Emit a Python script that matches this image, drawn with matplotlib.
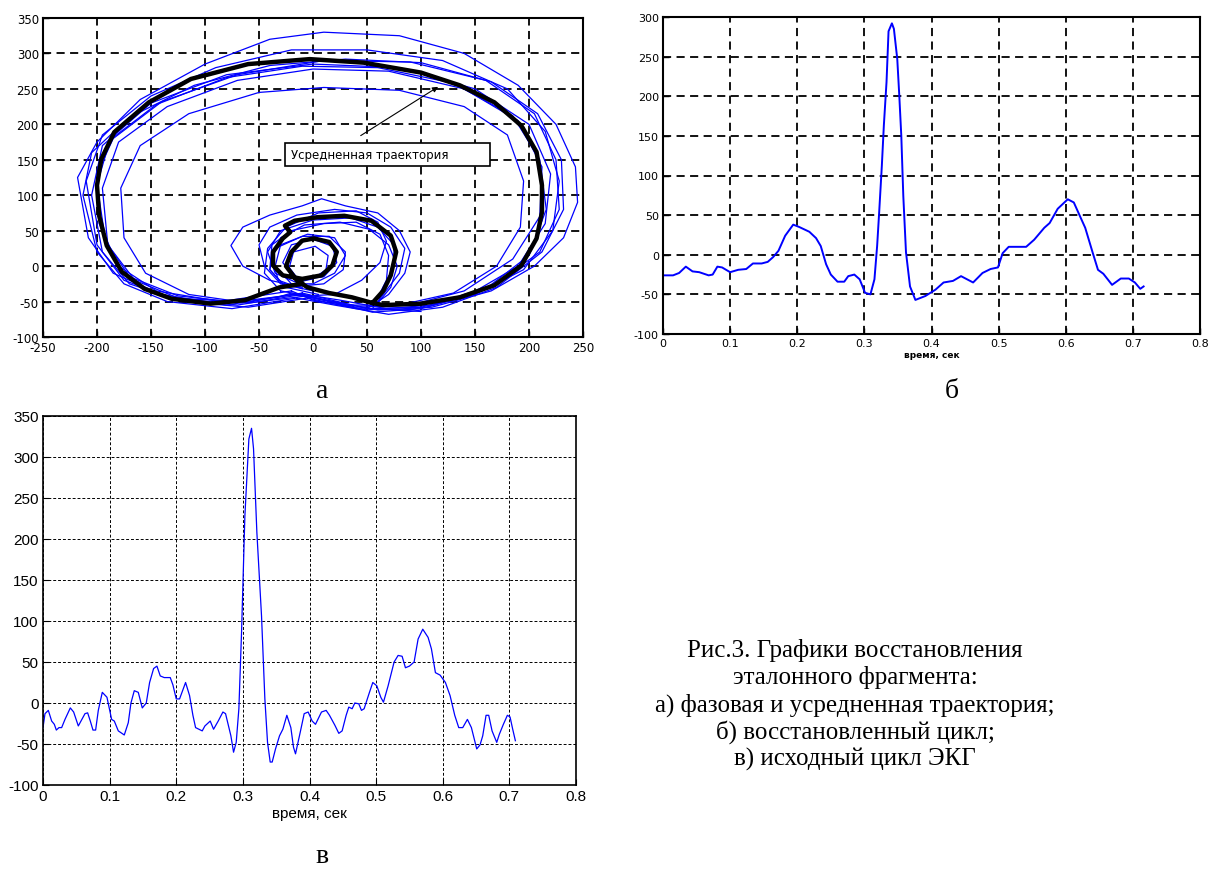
import matplotlib
matplotlib.use("Agg")
import matplotlib.pyplot as plt
from matplotlib.patches import Rectangle

plt.rcParams["axes.unicode_minus"] = False

# ---------------- Panel б: reconstructed cycle ----------------
rec_t = [0.0, 0.015, 0.024, 0.034, 0.044, 0.054, 0.068, 0.074, 0.081, 0.088, 0.1, 0.112, 0.124,
         0.134, 0.147, 0.156, 0.164, 0.172, 0.182, 0.194, 0.203, 0.218, 0.228, 0.235, 0.243, 0.25,
         0.26, 0.27, 0.276, 0.285, 0.293, 0.301, 0.309, 0.315, 0.319, 0.322, 0.326, 0.329, 0.333,
         0.336, 0.341, 0.344, 0.349, 0.352, 0.355, 0.358, 0.362, 0.368, 0.376, 0.391, 0.406, 0.418,
         0.432, 0.444, 0.453, 0.462, 0.476, 0.488, 0.499, 0.506, 0.515, 0.541, 0.553, 0.568, 0.576,
         0.588, 0.603, 0.612, 0.621, 0.629, 0.64, 0.648, 0.656, 0.669, 0.682, 0.694, 0.703, 0.711, 0.716]
rec_v = [-26, -26, -23, -15, -21, -22, -26, -25, -15, -16, -22, -19, -18,
         -11, -11, -9, -3, 5, 24, 38, 35, 29, 21, 11, -12, -25,
         -34, -34, -27, -25, -31, -48, -50, -31, 11, 53, 112, 163, 218,
         282, 292, 285, 247, 201, 150, 74, 3, -40, -57, -52, -44, -35,
         -33, -27, -31, -35, -23, -18, -16, 2, 10, 10, 19, 34, 40,
         58, 70, 66, 49, 34, 3, -19, -24, -38, -30, -30, -35, -43, -40]

# ---------------- Panel в: original ECG cycle ----------------
ecg_t = [0.0, 0.003, 0.008, 0.013, 0.017, 0.02, 0.024, 0.028, 0.033, 0.041, 0.046, 0.053, 0.057,
         0.063, 0.067, 0.071, 0.075, 0.079, 0.083, 0.089, 0.096, 0.103, 0.107, 0.113, 0.122, 0.128,
         0.132, 0.137, 0.143, 0.149, 0.155, 0.16, 0.166, 0.171, 0.176, 0.182, 0.191, 0.195, 0.2,
         0.205, 0.214, 0.22, 0.225, 0.229, 0.239, 0.243, 0.251, 0.256, 0.263, 0.27, 0.274, 0.282,
         0.286, 0.29, 0.294, 0.298, 0.303, 0.309, 0.313, 0.316, 0.321, 0.328, 0.333, 0.337, 0.341,
         0.344, 0.349, 0.355, 0.36, 0.366, 0.372, 0.376, 0.379, 0.386, 0.392, 0.398, 0.404, 0.409,
         0.418, 0.425, 0.43, 0.438, 0.444, 0.449, 0.455, 0.459, 0.464, 0.468, 0.474, 0.478, 0.482,
         0.49, 0.495, 0.501, 0.507, 0.511, 0.518, 0.527, 0.533, 0.539, 0.544, 0.55, 0.557, 0.563,
         0.57, 0.578, 0.583, 0.589, 0.596, 0.604, 0.611, 0.618, 0.624, 0.63, 0.637, 0.643, 0.651,
         0.656, 0.66, 0.665, 0.669, 0.674, 0.681, 0.685, 0.691, 0.697, 0.701, 0.705, 0.709]
ecg_v = [-30, -13, -9, -22, -26, -33, -30, -30, -20, -6, -11, -28, -22,
         -13, -12, -22, -33, -33, -9, 13, 7, -20, -22, -34, -39, -24,
         0, 15, 13, -6, 0, 25, 42, 45, 33, 31, 31, 22, 5,
         5, 25, 9, -15, -30, -34, -28, -22, -32, -22, -11, -13, -40,
         -60, -48, -7, 86, 228, 322, 335, 310, 208, 106, 5, -48, -72,
         -72, -56, -40, -32, -15, -30, -54, -62, -36, -13, -11, -22, -26,
         -11, -9, -15, -27, -37, -34, -15, -5, -7, 0, -1, -9, -7,
         13, 25, 21, 7, 1, 21, 50, 58, 57, 43, 45, 50, 78,
         90, 80, 66, 37, 34, 25, 9, -15, -30, -30, -20, -30, -56,
         -51, -40, -15, -15, -34, -48, -38, -26, -15, -17, -32, -46]

# ---------------- Panel а: phase trajectories ----------------
avg_x = [-10, -31, -63, -95, -131, -156, -177, -191, -198, -200, -196, -184, -152, -113, -60, -3,
         47, 100, 136, 168, 193, 207, 212, 212, 207, 193, 168, 136, 100, 65, 55, 65, 72, 77, 72,
         54, 29, 4, -17, -26, -21, -28, -37, -37, -28, -10, 8, 18, 22, 15, 1, -10, -20, -25, -15,
         -5, 15, 36, 55]
avg_y = [-25, -30, -48, -53, -46, -32, -8, 29, 71, 114, 151, 189, 231, 264, 285, 292,
         287, 273, 255, 231, 198, 161, 114, 76, 39, 1, -27, -44, -53, -55, -52, -35, -13, 20, 43,
         64, 71, 69, 64, 57, 48, 39, 20, 1, -13, -18, -13, 1, 20, 34, 39, 36, 20, 0, -20,
         -30, -38, -44, -52]

loop1_x = [-20, -80, -140, -185, -208, -218, -200, -160, -100, -40, 10, 80, 140, 190, 225, 243, 245, 232, 205, 165, 110, 60, 20, -20]
loop1_y = [-40, -55, -40, -10, 40, 125, 175, 235, 285, 320, 330, 325, 300, 255, 200, 140, 90, 40, 0, -35, -58, -62, -50, -40]
loop2_x = [-15, -70, -130, -175, -200, -210, -195, -150, -90, -20, 50, 120, 180, 215, 228, 222, 195, 150, 100, 55, 15, -15]
loop2_y = [-40, -50, -45, -20, 30, 120, 185, 240, 280, 305, 305, 290, 250, 190, 120, 50, -5, -40, -60, -65, -50, -40]
loop3_x = [-5, -60, -120, -170, -195, -205, -195, -150, -80, 0, 80, 150, 200, 220, 215, 190, 145, 90, 40, -5]
loop3_y = [-45, -58, -50, -25, 20, 100, 170, 230, 270, 285, 280, 250, 200, 130, 60, 0, -40, -62, -60, -45]
loop4_x = [-10, -70, -125, -165, -190, -195, -180, -135, -70, 0, 70, 140, 190, 212, 210, 185, 140, 90, 40, -10]
loop4_y = [-40, -55, -45, -20, 30, 110, 175, 225, 262, 278, 275, 250, 205, 140, 70, 10, -35, -55, -58, -40]
loop5_x = [-5, -60, -115, -155, -175, -178, -160, -115, -50, 10, 80, 140, 180, 195, 192, 170, 130, 80, 30, -5]
loop5_y = [-42, -52, -40, -10, 40, 110, 170, 215, 245, 252, 248, 225, 185, 120, 55, 0, -38, -55, -55, -42]
loop6_x = [-20, -85, -145, -180, -198, -200, -185, -140, -70, 10, 90, 160, 205, 225, 228, 210, 170, 110, 50, 0, -20]
loop6_y = [-35, -50, -35, 0, 60, 130, 180, 232, 270, 290, 288, 262, 215, 150, 80, 20, -25, -55, -62, -48, -35]
loop7_x = [-15, -75, -135, -175, -200, -213, -205, -170, -110, -40, 30, 100, 165, 208, 230, 232, 212, 170, 120, 70, 20, -15]
loop7_y = [-45, -60, -50, -25, 20, 100, 160, 210, 255, 283, 292, 287, 260, 215, 150, 80, 20, -30, -58, -68, -55, -45]
loop8_x = [-10, -65, -125, -170, -192, -200, -188, -145, -80, -10, 60, 130, 185, 210, 216, 200, 160, 105, 50, -10]
loop8_y = [-38, -52, -42, -15, 35, 115, 178, 228, 266, 282, 280, 258, 212, 150, 80, 15, -32, -58, -60, -38]

small1_x = [-10, -40, -65, -76, -65, -40, -10, 8, 30, 60, 80, 90, 85, 70, 50]
small1_y = [-30, -20, 0, 29, 55, 72, 85, 95, 85, 75, 50, 20, -10, -40, -60]
small2_x = [0, -30, -45, -50, -40, -15, 20, 50, 72, 85, 80, 65, 55]
small2_y = [-35, -25, 0, 30, 55, 72, 80, 75, 55, 25, -10, -40, -60]
small3_x = [-5, -35, -42, -30, 0, 35, 60, 75, 75, 65, 60]
small3_y = [-30, -10, 20, 50, 65, 68, 55, 30, 0, -30, -55]
small4_x = [5, -25, -40, -38, -20, 10, 40, 62, 70, 68, 58]
small4_y = [-40, -30, -5, 30, 50, 60, 62, 45, 15, -20, -50]
small5_x = [-20, -35, -30, -5, 20, 30, 20, 0, -20]
small5_y = [-25, 0, 30, 45, 40, 15, -10, -25, -25]
small6_x = [-15, -28, -20, 0, 18, 22, 10, -15]
small6_y = [-20, 5, 30, 38, 28, 5, -15, -20]
small7_x = [-25, -40, -35, -10, 15, 30, 28, 10, -25]
small7_y = [-30, -5, 25, 42, 42, 20, -5, -25, -30]
small8_x = [-30, -45, -42, -25, 5, 40, 60, 68, 62, 45, 20, -5, -30]
small8_y = [-35, -10, 25, 55, 75, 78, 62, 35, 5, -20, -40, -42, -35]
small9_x = [-35, -20, 0, 25, 50, 75, 100]
small9_y = [-45, -38, -42, -48, -55, -62, -64]
small10_x = [-10, -32, -38, -30, -8, 25, 52, 70, 78, 72, 60]
small10_y = [-32, -20, 10, 40, 58, 62, 52, 30, 0, -30, -52]
small11_x = [-12, -22, -18, 2, 14, 12, 0, -12]
small11_y = [-22, -2, 20, 28, 15, -5, -18, -22]

big_loops = [(loop1_x, loop1_y), (loop2_x, loop2_y), (loop3_x, loop3_y), (loop4_x, loop4_y),
             (loop5_x, loop5_y), (loop6_x, loop6_y), (loop7_x, loop7_y), (loop8_x, loop8_y)]
small_loops = [(small1_x, small1_y), (small2_x, small2_y), (small3_x, small3_y), (small4_x, small4_y),
               (small5_x, small5_y), (small6_x, small6_y), (small7_x, small7_y), (small8_x, small8_y),
               (small9_x, small9_y), (small10_x, small10_y), (small11_x, small11_y)]

a_xticks = list(range(-250, 251, 50))
a_yticks = list(range(-100, 351, 50))
b_xticks = [0, 0.1, 0.2, 0.3, 0.4, 0.5, 0.6, 0.7, 0.8]
b_xlabels = ["0", "0.1", "0.2", "0.3", "0.4", "0.5", "0.6", "0.7", "0.8"]
b_yticks = list(range(-100, 301, 50))
c_yticks = list(range(-100, 351, 50))

caption_lines = ["Рис.3. Графики восстановления",
                 "эталонного фрагмента:",
                 "а) фазовая и усредненная траектория;",
                 "б) восстановленный цикл;",
                 "в) исходный цикл ЭКГ"]

W, H = 1211, 870
fig = plt.figure(figsize=(W / 100, H / 100), dpi=100)
fig.patch.set_facecolor("white")

def frac(l, t, r, b):
    return [l / W, 1 - b / H, (r - l) / W, (b - t) / H]

BLUE = "#0000ff"

def style_old(ax, fs):
    ax.grid(True, color="black", linestyle=(0, (4.5, 3)), linewidth=1.3)
    ax.set_axisbelow(True)
    for s in ax.spines.values():
        s.set_linewidth(1.5)
        s.set_color("black")
    ax.tick_params(direction="in", length=4, width=1, labelsize=fs, colors="black", pad=3)

# ---- Panel а ----
axA = fig.add_axes(frac(43, 19, 583, 338))
for lx, ly in big_loops:
    axA.plot(lx, ly, color=BLUE, lw=0.9)
for lx, ly in small_loops:
    axA.plot(lx, ly, color=BLUE, lw=0.9)
axA.plot(avg_x, avg_y, color="black", lw=3.2, solid_joinstyle="round")
axA.set_xlim(-250, 250)
axA.set_ylim(-100, 350)
axA.set_xticks(a_xticks)
axA.set_yticks(a_yticks)
style_old(axA, 8.5)
axA.add_patch(Rectangle((-26, 141), 190, 33, facecolor="white", edgecolor="black", lw=1.2, zorder=5))
axA.text(-20, 157, "Усредненная траектория", fontsize=8.5, va="center", ha="left", zorder=6)
axA.annotate("", xy=(118, 255), xytext=(42, 182),
             arrowprops=dict(arrowstyle="-|>", color="black", lw=0.8, mutation_scale=8), zorder=6)

# ---- Panel б ----
axB = fig.add_axes(frac(663, 18, 1200, 335))
axB.plot(rec_t, rec_v, color=BLUE, lw=1.4)
axB.set_xlim(0, 0.8)
axB.set_ylim(-100, 300)
axB.set_xticks(b_xticks)
axB.set_xticklabels(b_xlabels)
axB.set_yticks(b_yticks)
style_old(axB, 8)
axB.set_xlabel("время, сек", fontsize=6.5, fontweight="bold", labelpad=1)

# ---- Panel в ----
axC = fig.add_axes(frac(43, 417, 576, 786))
axC.plot(ecg_t, ecg_v, color=BLUE, lw=0.9)
axC.set_xlim(0, 0.8)
axC.set_ylim(-100, 350)
axC.set_xticks(b_xticks)
axC.set_xticklabels(b_xlabels)
axC.set_yticks(c_yticks)
axC.grid(True, color="black", linestyle=(0, (3, 2)), linewidth=0.7)
axC.set_axisbelow(True)
for s in axC.spines.values():
    s.set_linewidth(1.2)
axC.tick_params(direction="in", length=4, width=0.8, labelsize=11, pad=3)
for lbl in axC.get_xticklabels() + axC.get_yticklabels():
    lbl.set_family("Liberation Sans")
axC.set_xlabel("время, сек", fontsize=11, family="Liberation Sans", labelpad=2)

# ---- Panel letters and caption ----
serif = "Liberation Serif"
fig.text(322 / W, 1 - 392 / H, "а", fontsize=20, family=serif, ha="center", va="center")
fig.text(952 / W, 1 - 392 / H, "б", fontsize=20, family=serif, ha="center", va="center")
fig.text(322 / W, 1 - 857 / H, "в", fontsize=20, family=serif, ha="center", va="center")
for i, line in enumerate(caption_lines):
    fig.text(855 / W, 1 - (651 + 27 * i) / H, line, fontsize=18, family=serif, ha="center", va="center")

fig.savefig("out.png", dpi=100, facecolor="white")
